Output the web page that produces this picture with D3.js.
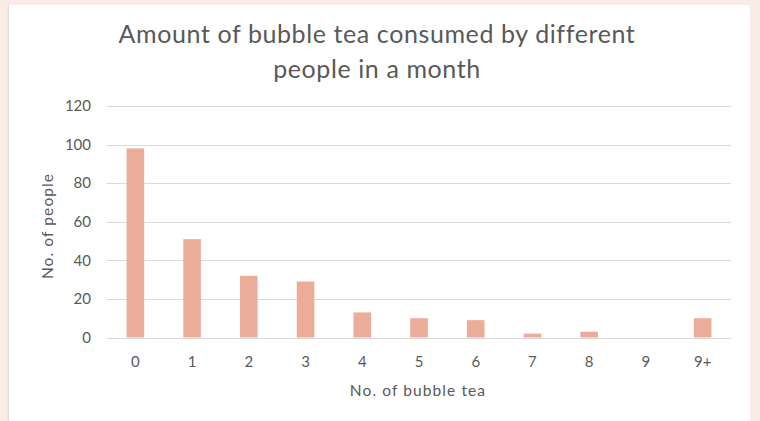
<!DOCTYPE html>
<html><head><meta charset="utf-8">
<script src="https://cdn.jsdelivr.net/npm/d3@7"></script>
<style>
html,body{margin:0;padding:0;background:#f9ece6;}
svg{display:block;}
</style></head>
<body>
<svg id="chart" width="760" height="421"></svg>
<script>
const categories = ["0","1","2","3","4","5","6","7","8","9","9+"];
const values = [98,51,32,29,13,10,9,2,3,0,10];
const yTicks = [0,20,40,60,80,100,120];
const titleLines = ["Amount of bubble tea consumed by different","people in a month"];
const xTitle = "No. of bubble tea";
const yTitle = "No. of people";

const svg = d3.select("#chart");
// panel
svg.append("rect").attr("x",7.5).attr("y",5).attr("width",1.5).attr("height",416).attr("fill","#e6e0dd");
svg.append("rect").attr("x",9).attr("y",5).attr("width",741).attr("height",416).attr("fill","#ffffff");

const m = {left:107, right:731, top:106, bottom:337.5};
const x = d3.scaleBand().domain(categories).range([m.left, m.right]).paddingInner(0.69).paddingOuter(0.345);
const y = d3.scaleLinear().domain([0,120]).range([m.bottom, m.top]);

const font = "Lato, 'Open Sans', sans-serif";
// grid
svg.append("g").selectAll("line").data(yTicks).join("line")
  .attr("x1",m.left).attr("x2",m.right)
  .attr("y1",d=>Math.round(y(d))+0.5).attr("y2",d=>Math.round(y(d))+0.5)
  .attr("stroke","#d9d9d9").attr("stroke-width",1);

// y axis labels
const yAxis = d3.axisLeft(y).tickValues(yTicks).tickSize(0).tickPadding(16);
const gy = svg.append("g").attr("transform",`translate(${m.left},0)`).call(yAxis);
gy.select(".domain").remove();
gy.selectAll("text").attr("font-family",font).attr("font-size",15).attr("fill","#595959");

// bars
svg.append("g").selectAll("rect").data(values).join("rect")
  .attr("x",(d,i)=>x(categories[i]))
  .attr("width",x.bandwidth())
  .attr("y",d=>y(d))
  .attr("height",d=>y(0)-y(d))
  .attr("fill","#ebad9a");

// x axis
const xAxis = d3.axisBottom(x).tickSize(0).tickPadding(19);
const gx = svg.append("g").attr("transform",`translate(0,${m.bottom})`).call(xAxis);
gx.select(".domain").remove();
gx.selectAll("text").attr("font-family",font).attr("font-size",15).attr("fill","#595959");

// titles
svg.append("g").selectAll("text").data(titleLines).join("text")
  .attr("x",377).attr("y",(d,i)=>43+i*35)
  .attr("text-anchor","middle")
  .attr("font-family",font).attr("font-weight",400).attr("font-size",25)
  .attr("letter-spacing",0.6)
  .attr("fill","#595959").text(d=>d);

svg.append("text").attr("x",418).attr("y",396).attr("text-anchor","middle")
  .attr("font-family",font).attr("font-size",15.5).attr("letter-spacing",1.1).attr("fill","#595959").text(xTitle);

svg.append("text").attr("transform","translate(53,226) rotate(-90)").attr("text-anchor","middle")
  .attr("font-family",font).attr("font-size",15.5).attr("letter-spacing",1.1).attr("fill","#595959").text(yTitle);
</script>
</body></html>
